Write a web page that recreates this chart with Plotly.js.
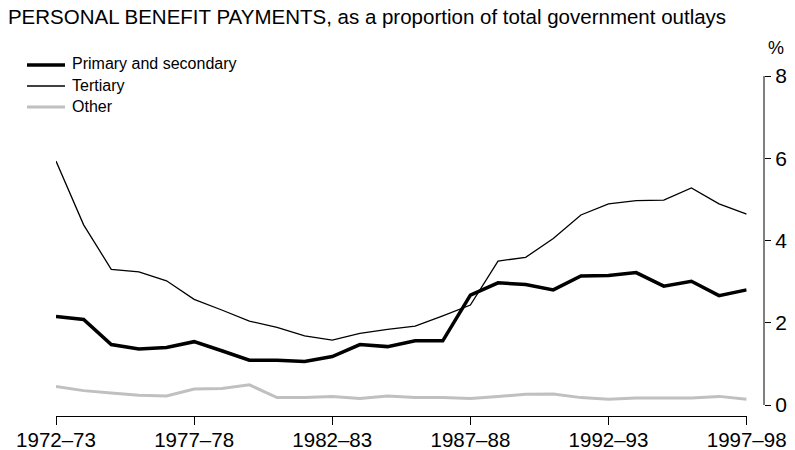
<!DOCTYPE html>
<html>
<head>
<meta charset="utf-8">
<script src="https://cdn.plot.ly/plotly-3.0.1.min.js"></script>
<style>html,body{margin:0;padding:0;background:#fff;}#chart{width:795px;height:450px;}</style>
</head>
<body>
<div id="chart"></div>
<script>
const years = ["1972–73","1973–74","1974–75","1975–76","1976–77","1977–78","1978–79","1979–80","1980–81","1981–82","1982–83","1983–84","1984–85","1985–86","1986–87","1987–88","1988–89","1989–90","1990–91","1991–92","1992–93","1993–94","1994–95","1995–96","1996–97","1997–98"];
const primarySecondary = [2.15,2.08,1.47,1.36,1.40,1.54,1.32,1.09,1.09,1.06,1.18,1.47,1.42,1.56,1.56,2.67,2.97,2.93,2.80,3.14,3.15,3.22,2.89,3.01,2.66,2.80];
const tertiary = [5.93,4.38,3.30,3.24,3.02,2.57,2.31,2.04,1.89,1.68,1.58,1.74,1.84,1.92,2.17,2.43,3.50,3.59,4.05,4.62,4.89,4.97,4.98,5.28,4.89,4.64];
const other = [0.45,0.35,0.29,0.24,0.22,0.39,0.40,0.49,0.18,0.18,0.21,0.16,0.22,0.18,0.18,0.16,0.21,0.26,0.27,0.18,0.14,0.17,0.17,0.17,0.21,0.14];
const seriesNames = ["Primary and secondary","Tertiary","Other"];
const xTicks = ["1972–73","1977–78","1982–83","1987–88","1992–93","1997–98"];
const yTicks = [0,2,4,6,8];

const font = "Liberation Sans, Arial, sans-serif";
const styles = [
  {color: "#000000", width: 3.5},
  {color: "#000000", width: 1.3},
  {color: "#c0c0c0", width: 3}
];
const values = [primarySecondary, tertiary, other];
const traces = values.map((v, i) => ({x: years, y: v, name: seriesNames[i], type: "scatter", mode: "lines", line: styles[i], showlegend: false}));

// plot area geometry (px) for manual legend placement
const L = 56, R = 31, T = 76, B = 34, W = 795, H = 450;
const pw = W - L - R, ph = H - T - B;
const px2x = p => (p - L) / pw;
const py2y = p => (H - B - p) / ph;

const shapes = [
  {type: "line", xref: "paper", yref: "y", x0: 1, x1: 1, y0: 0, y1: 8, line: {color: "#000", width: 1}}
];
const annotations = [
  {text: "%", xref: "paper", yref: "paper", x: px2x(766), y: py2y(48), xanchor: "left", yanchor: "middle", showarrow: false, font: {size: 18, family: font}}
];
seriesNames.forEach((n, i) => {
  const yy = 65 + 21 * i;
  shapes.push({type: "line", xref: "paper", yref: "paper", x0: px2x(27), x1: px2x(65), y0: py2y(yy), y1: py2y(yy), line: styles[i]});
  annotations.push({text: n, xref: "paper", yref: "paper", x: px2x(70), y: py2y(yy - 1), xanchor: "left", yanchor: "middle", showarrow: false, font: {size: 16, family: font}});
});

const layout = {
  width: W, height: H,
  margin: {l: L, r: R, t: T, b: B, pad: 0},
  paper_bgcolor: "#fff", plot_bgcolor: "#fff",
  font: {family: font, color: "#000"},
  title: {text: "PERSONAL BENEFIT PAYMENTS, as a proportion of total government outlays", font: {size: 20.5, family: font, color: "#000"}, xref: "container", x: 0.01, xanchor: "left", yref: "container", y: 0.962, yanchor: "middle"},
  showlegend: false,
  xaxis: {
    type: "category", domain: [0, 0.9755], range: [0, years.length - 1],
    showgrid: false, zeroline: false, showline: true, linecolor: "#000", linewidth: 1,
    ticks: "outside", ticklen: 8, tickcolor: "#000", tickwidth: 1,
    tickmode: "array", tickvals: xTicks, ticktext: xTicks,
    ticklabelstandoff: -3,
    tickfont: {size: 20.5, family: font}, fixedrange: true
  },
  yaxis: {
    range: [-0.267, 8], anchor: "free", position: 1, side: "right",
    showgrid: false, zeroline: false, showline: false,
    ticks: "outside", ticklen: 6, tickcolor: "#000", tickwidth: 1,
    tickmode: "array", tickvals: yTicks, ticktext: yTicks.map(String),
    tickfont: {size: 21, family: font}, fixedrange: true
  },
  shapes: shapes,
  annotations: annotations
};
Plotly.newPlot("chart", traces, layout, {displayModeBar: false, staticPlot: true});
</script>
</body>
</html>
